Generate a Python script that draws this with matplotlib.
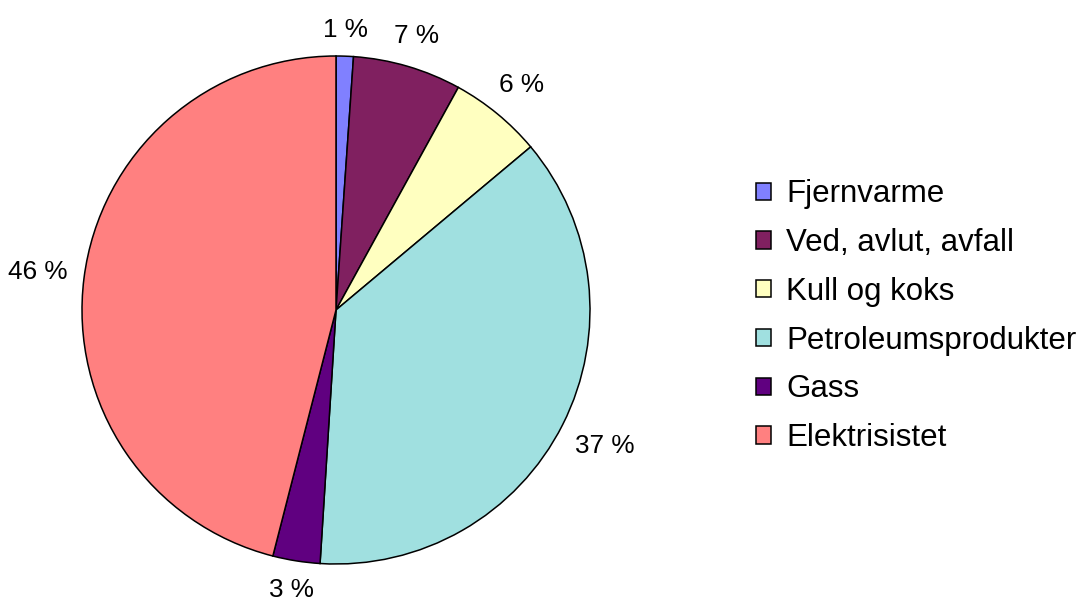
import matplotlib
matplotlib.use('Agg')
import matplotlib.pyplot as plt
import numpy as np

plt.rcParams['font.family'] = ['Liberation Sans', 'DejaVu Sans']

names = ['Fjernvarme', 'Ved, avlut, avfall', 'Kull og koks', 'Petroleumsprodukter', 'Gass', 'Elektrisistet']
values = [1.1, 6.9, 5.9, 37.1, 3.0, 46.0]
labels = ['1 %', '7 %', '6 %', '37 %', '3 %', '46 %']
colors = ['#8080FF', '#802060', '#FFFFC0', '#A0E0E0', '#600080', '#FF8080']

fig = plt.figure(figsize=(10.8, 6), dpi=100)
ax = fig.add_axes([82 / 1080, 36 / 600, 508 / 1080, 508 / 600])

wedges, texts = ax.pie(values, labels=labels, colors=colors, startangle=90, counterclock=False,
                       labeldistance=1.1, wedgeprops=dict(edgecolor='black', linewidth=1.1),
                       textprops=dict(fontsize=18.8))
ax.set_xlim(-1, 1)
ax.set_ylim(-1, 1)
ax.set_aspect('equal')

# excel-style: centre each label a fixed gap outside the rim
fig.canvas.draw()
renderer = fig.canvas.get_renderer()
radius_px = 254.0
gap = 16.0 / radius_px
for w, t in zip(wedges, texts):
    ang = np.deg2rad((w.theta1 + w.theta2) / 2)
    dx, dy = np.cos(ang), np.sin(ang)
    bb = t.get_window_extent(renderer)
    hw = bb.width / 2 / radius_px
    hh = bb.height / 2 / radius_px * 0.8
    r = 1 + gap + hw * abs(dx) + hh * abs(dy)
    t.set_ha('center')
    t.set_va('center')
    t.set_position((r * dx, r * dy))

fig.legend(wedges, names, loc='upper left', bbox_to_anchor=(0.700, 0.701), frameon=False,
           fontsize=22.5, handlelength=0.48, handleheight=0.48, handletextpad=0.48,
           labelspacing=0.6, borderpad=0, borderaxespad=0)

fig.savefig('out.png', dpi=100)
